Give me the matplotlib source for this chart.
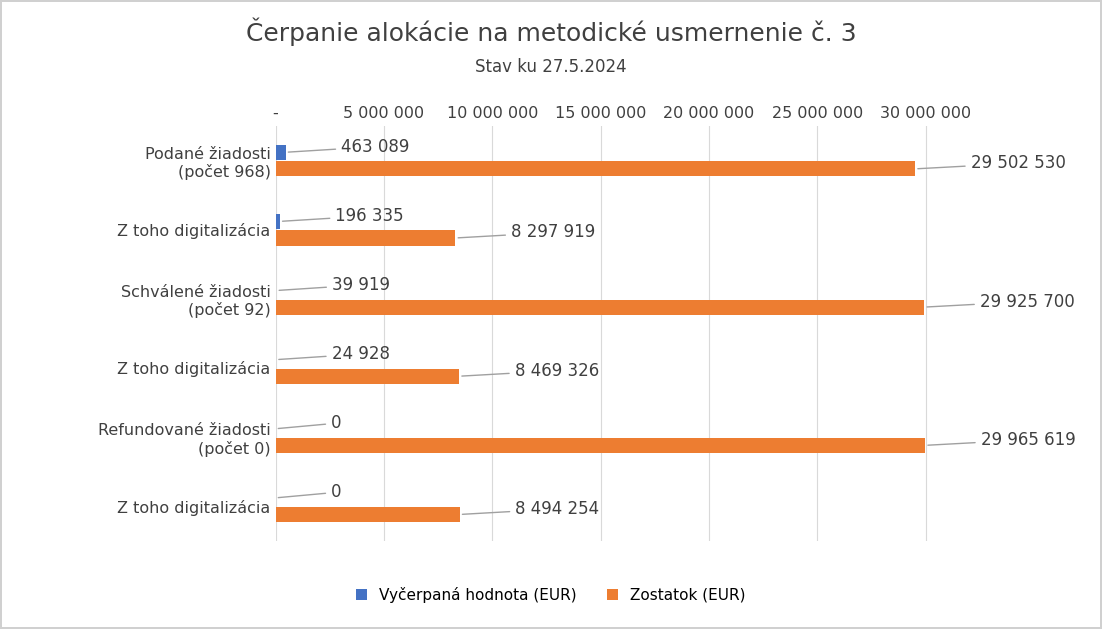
import matplotlib.pyplot as plt
import numpy as np

categories = ["Podané žiadosti\n(počet 968)", "Z toho digitalizácia", "Schválené žiadosti\n(počet 92)",
              "Z toho digitalizácia", "Refundované žiadosti\n(počet 0)", "Z toho digitalizácia"]
used = [463089, 196335, 39919, 24928, 0, 0]
remaining = [29502530, 8297919, 29925700, 8469326, 29965619, 8494254]
ticks = [0, 5000000, 10000000, 15000000, 20000000, 25000000, 30000000]
tick_labels = ["-", "5 000 000", "10 000 000", "15 000 000", "20 000 000", "25 000 000", "30 000 000"]

def fmt(v):
    return f"{v:,}".replace(",", " ")

fig = plt.figure(figsize=(11.02, 6.29), dpi=100)
fig.patch.set_edgecolor("#d0d0d0")
fig.patch.set_linewidth(1.5)
ax = fig.add_axes([0.25, 0.14, 0.6, 0.66])

y = np.arange(len(categories))
ax.barh(y - 0.12, used, height=0.22, color="#4472c4", label="Vyčerpaná hodnota (EUR)")
ax.barh(y + 0.12, remaining, height=0.22, color="#ed7d31", label="Zostatok (EUR)")

for i in range(len(categories)):
    ax.annotate(fmt(used[i]), (used[i], y[i] - 0.12), xytext=(40, 4), textcoords="offset points",
                fontsize=12, color="#404040", va="center",
                arrowprops=dict(arrowstyle="-", color="#a0a0a0"))
    ax.annotate(fmt(remaining[i]), (remaining[i], y[i] + 0.12), xytext=(40, 4), textcoords="offset points",
                fontsize=12, color="#404040", va="center",
                arrowprops=dict(arrowstyle="-", color="#a0a0a0"))

ax.set_yticks(y)
ax.set_yticklabels(categories, fontsize=11.5, color="#404040")
ax.invert_yaxis()
ax.set_xlim(0, 30500000)
ax.set_xticks(ticks)
ax.set_xticklabels(tick_labels, fontsize=11.5, color="#404040")
ax.xaxis.tick_top()
ax.tick_params(length=0)
ax.grid(axis="x", color="#d9d9d9")
ax.set_axisbelow(True)
for s in ax.spines.values():
    s.set_visible(False)

fig.text(0.5, 0.935, "Čerpanie alokácie na metodické usmernenie č. 3", ha="center", fontsize=18, color="#404040")
fig.text(0.5, 0.885, "Stav ku 27.5.2024", ha="center", fontsize=12, color="#404040")
fig.legend(loc="lower center", ncol=2, frameon=False, fontsize=11, bbox_to_anchor=(0.5, 0.02),
           handlelength=0.7, handleheight=0.7)
fig.savefig("out.png", dpi=100, edgecolor=fig.get_edgecolor())
